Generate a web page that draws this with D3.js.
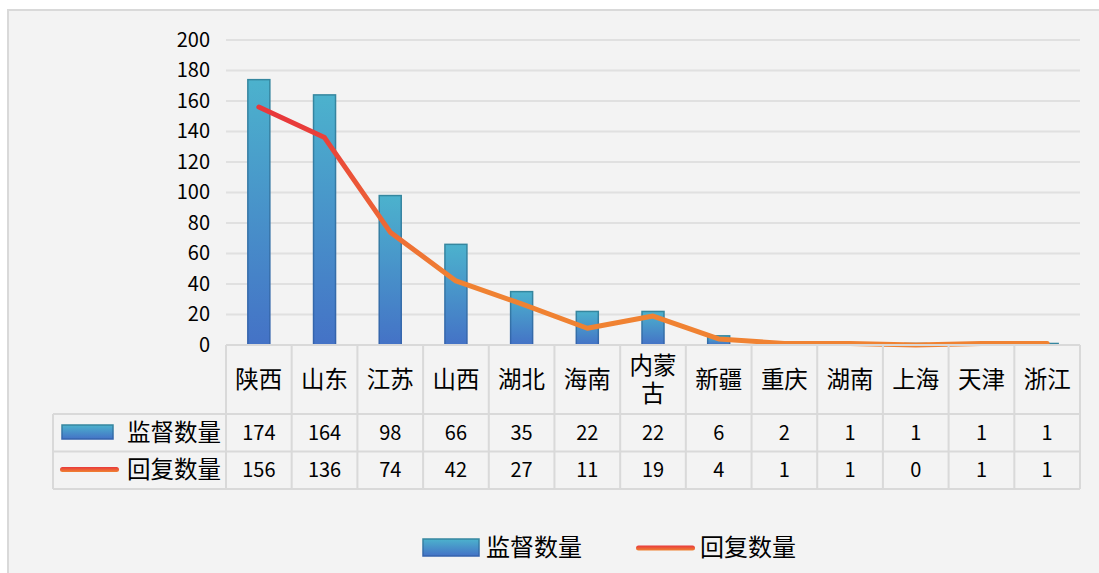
<!DOCTYPE html>
<html>
<head>
<meta charset="utf-8">
<script src="https://cdn.jsdelivr.net/npm/d3@7"></script>
<style>
  html, body { margin: 0; padding: 0; background: #ffffff; }
  svg { display: block; font-family: "Noto Sans CJK SC", "Noto Sans", sans-serif; }
</style>
</head>
<body>
<svg id="chart" width="1099" height="573"></svg>
<script>
// data
const categories = ["陕西", "山东", "江苏", "山西", "湖北", "海南", "内蒙古", "新疆", "重庆", "湖南", "上海", "天津", "浙江"];
const superviseCount = [174, 164, 98, 66, 35, 22, 22, 6, 2, 1, 1, 1, 1];
const replyCount = [156, 136, 74, 42, 27, 11, 19, 4, 1, 1, 0, 1, 1];
const seriesNames = ["监督数量", "回复数量"];
const yTicks = [0, 20, 40, 60, 80, 100, 120, 140, 160, 180, 200];

const svg = d3.select("#chart");
const plotLeft = 226, plotRight = 1080, plotTop = 40, plotBottom = 345;
const tableLeft = 53;
const rowLines = [345, 414, 451.5, 489];
const cjkSize = "23.5px", numSize = "20px";

// panel
svg.append("rect")
  .attr("x", 8).attr("y", 10)
  .attr("width", 1200).attr("height", 700)
  .attr("fill", "#f3f3f3")
  .attr("stroke", "#d9d9d9")
  .attr("stroke-width", 2);

const defs = svg.append("defs");
let barGrad = defs.append("linearGradient").attr("id", "barGrad")
  .attr("x1", 0).attr("y1", 0).attr("x2", 0).attr("y2", 1);
barGrad.append("stop").attr("offset", "0%").attr("stop-color", "#4cb2cd");
barGrad.append("stop").attr("offset", "100%").attr("stop-color", "#4472c6");
let barStroke = defs.append("linearGradient").attr("id", "barStroke")
  .attr("x1", 0).attr("y1", 0).attr("x2", 0).attr("y2", 1);
barStroke.append("stop").attr("offset", "0%").attr("stop-color", "#35879f");
barStroke.append("stop").attr("offset", "100%").attr("stop-color", "#3462ad");

let x = d3.scaleBand().domain(categories).range([plotLeft, plotRight]);
let y = d3.scaleLinear().domain([0, 200]).range([plotBottom, plotTop]);

let lineGrad = defs.append("linearGradient").attr("id", "lineGrad")
  .attr("gradientUnits", "userSpaceOnUse")
  .attr("x1", 0).attr("x2", 0)
  .attr("y1", y(150)).attr("y2", y(40));
lineGrad.append("stop").attr("offset", "0%").attr("stop-color", "#e8383b");
lineGrad.append("stop").attr("offset", "100%").attr("stop-color", "#f08232");
let legLineGrad = defs.append("linearGradient").attr("id", "legLineGrad")
  .attr("x1", 0).attr("y1", 0).attr("x2", 0).attr("y2", 1);
legLineGrad.append("stop").attr("offset", "0%").attr("stop-color", "#e8383b");
legLineGrad.append("stop").attr("offset", "100%").attr("stop-color", "#f08232");

// grid + y axis
svg.append("g").selectAll("line")
  .data(yTicks.filter(d => d > 0))
  .enter().append("line")
    .attr("x1", plotLeft).attr("x2", plotRight)
    .attr("y1", d => y(d)).attr("y2", d => y(d))
    .attr("stroke", "#e0e0e0").attr("stroke-width", 2);

svg.append("g")
  .attr("transform", "translate(" + plotLeft + ",0)")
  .call(d3.axisLeft(y).tickValues(yTicks).tickSize(0).tickPadding(16))
  .call(g => g.select(".domain").remove())
  .selectAll("text")
    .attr("font-size", numSize)
    .attr("font-family", "\"Noto Sans CJK SC\", sans-serif")
    .attr("fill", "#000");

// bars
let bw = 22;
svg.append("g").selectAll("rect")
  .data(superviseCount)
  .enter().append("rect")
    .attr("x", (d, i) => x(categories[i]) + x.bandwidth() / 2 - bw / 2)
    .attr("y", d => y(d))
    .attr("width", bw)
    .attr("height", d => y(0) - y(d))
    .attr("fill", "url(#barGrad)")
    .attr("stroke", "url(#barStroke)")
    .attr("stroke-width", 1.5);

// line
let line = d3.line()
  .x((d, i) => x(categories[i]) + x.bandwidth() / 2)
  .y(d => y(d));
svg.append("path")
  .attr("d", line(replyCount))
  .attr("fill", "none")
  .attr("stroke", "url(#lineGrad)")
  .attr("stroke-width", 5)
  .attr("stroke-linejoin", "round")
  .attr("stroke-linecap", "round");

// data table
const grid = svg.append("g").attr("stroke", "#d9d9d9").attr("stroke-width", 2);
grid.append("line").attr("x1", plotLeft).attr("x2", plotRight).attr("y1", rowLines[0]).attr("y2", rowLines[0]);
rowLines.slice(1).forEach(v => {
  grid.append("line").attr("x1", tableLeft).attr("x2", plotRight).attr("y1", v).attr("y2", v);
});
categories.concat([null]).forEach(c => {
  let xv = c === null ? plotRight : x(c);
  grid.append("line").attr("x1", xv).attr("x2", xv).attr("y1", rowLines[0]).attr("y2", rowLines[3]);
});
grid.append("line").attr("x1", tableLeft).attr("x2", tableLeft).attr("y1", rowLines[1]).attr("y2", rowLines[3]);

const txt = svg.append("g").attr("fill", "#000").attr("text-anchor", "middle");
categories.forEach(c => {
  let cx = x(c) + x.bandwidth() / 2;
  let parts = c.length > 2 ? [c.slice(0, 2), c.slice(2)] : [c];
  let t = txt.append("text")
    .attr("x", cx)
    .attr("font-size", cjkSize);
  parts.forEach((p, j) => {
    t.append("tspan")
      .attr("x", cx)
      .attr("y", parts.length > 1 ? 366 + j * 28 : 380)
      .attr("dy", "0.35em")
      .text(p);
  });
});
[superviseCount, replyCount].forEach((vals, r) => {
  let cy = (rowLines[r + 1] + rowLines[r + 2]) / 2;
  vals.forEach((v, i) => {
    txt.append("text")
      .attr("x", x(categories[i]) + x.bandwidth() / 2)
      .attr("y", cy).attr("dy", "0.35em")
      .attr("font-size", numSize)
      .text(v);
  });
  txt.append("text")
    .attr("x", 221).attr("y", cy).attr("dy", "0.35em")
    .attr("text-anchor", "end")
    .attr("font-size", cjkSize)
    .text(seriesNames[r]);
});
// table legend keys
svg.append("rect").attr("x", 62).attr("y", 425).attr("width", 51).attr("height", 14)
  .attr("fill", "url(#barGrad)").attr("stroke", "url(#barStroke)").attr("stroke-width", 1.5);
svg.append("rect").attr("x", 60).attr("y", 467).attr("width", 59).attr("height", 5).attr("rx", 2.5)
  .attr("fill", "url(#legLineGrad)");

// bottom legend
svg.append("rect").attr("x", 423).attr("y", 539).attr("width", 56).attr("height", 17)
  .attr("fill", "url(#barGrad)").attr("stroke", "url(#barStroke)").attr("stroke-width", 1.5);
svg.append("text").attr("x", 486).attr("y", 548).attr("dy", "0.35em")
  .attr("font-size", "24px").attr("fill", "#000").text(seriesNames[0]);
svg.append("rect").attr("x", 636).attr("y", 545.5).attr("width", 59).attr("height", 5).attr("rx", 2.5)
  .attr("fill", "url(#legLineGrad)");
svg.append("text").attr("x", 700).attr("y", 548).attr("dy", "0.35em")
  .attr("font-size", "24px").attr("fill", "#000").text(seriesNames[1]);
</script>
</body>
</html>
